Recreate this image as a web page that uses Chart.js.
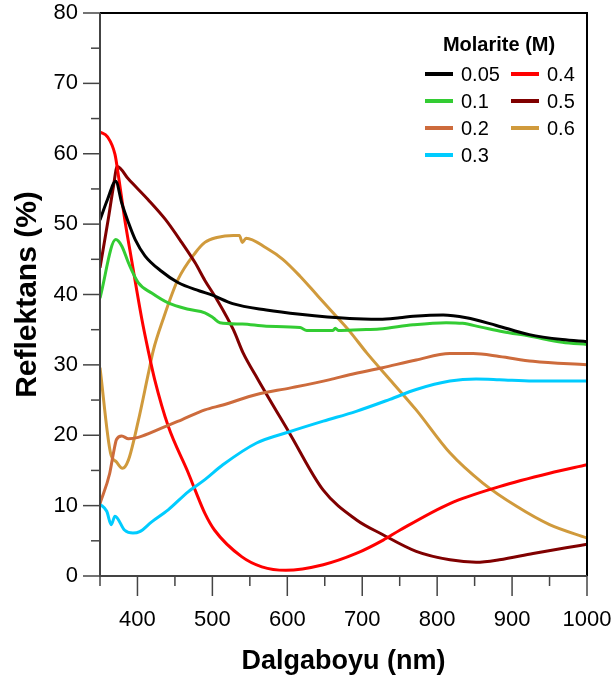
<!DOCTYPE html>
<html>
<head>
<meta charset="utf-8">
<script src="https://cdn.jsdelivr.net/npm/chart.js@4/dist/chart.umd.min.js"></script>
<style>
  html, body { margin: 0; padding: 0; background: #fff; }
  canvas { display: block; }
</style>
</head>
<body>
<canvas id="c" width="613" height="684"></canvas>
<script>
// ---- Data ----
const molarities = ['0.05', '0.1', '0.2', '0.3', '0.4', '0.5', '0.6'];
const colors = ['#000000', '#33cc33', '#cd6b3c', '#00ccff', '#ff0000', '#800000', '#d09a3c'];

const nm005 = [350, 360, 371, 379, 388, 397, 410, 432, 454, 483, 500, 527, 572, 617, 683, 723, 750, 768, 808, 839, 879, 923, 967, 1000];
const r005  = [50.6, 53.5, 56.1, 53.0, 50.2, 47.8, 45.5, 43.3, 41.7, 40.5, 39.9, 38.7, 37.8, 37.2, 36.6, 36.5, 36.7, 36.9, 37.1, 36.7, 35.6, 34.3, 33.6, 33.3];

const nm01 = [350, 371, 379, 388, 401, 419, 441, 468, 490, 501, 510, 540, 572, 617, 626, 661, 664, 668, 697, 723, 768, 812, 834, 857, 888, 923, 967, 1000];
const r01  = [39.5, 47.8, 46.9, 44.5, 41.7, 40.2, 38.8, 37.9, 37.4, 36.7, 36.0, 35.8, 35.5, 35.3, 34.9, 34.9, 35.2, 34.9, 35.0, 35.1, 35.7, 36.0, 35.9, 35.4, 34.7, 34.1, 33.2, 32.9];

const nm02 = [350, 363, 368, 372, 379, 388, 401, 432, 459, 490, 514, 559, 603, 657, 683, 727, 772, 817, 848, 883, 928, 1000];
const r02  = [10.3, 14.6, 17.5, 19.4, 19.9, 19.5, 19.7, 21.0, 22.2, 23.6, 24.3, 25.8, 26.7, 27.9, 28.6, 29.6, 30.7, 31.6, 31.6, 31.2, 30.5, 30.0];

const nm03 = [350, 359, 365, 370, 383, 394, 403, 419, 441, 468, 490, 514, 559, 603, 648, 692, 737, 772, 817, 852, 883, 928, 1000];
const r03  = [10.2, 9.2, 7.3, 8.5, 6.5, 6.1, 6.3, 7.7, 9.4, 12.0, 13.7, 15.8, 18.9, 20.5, 22.0, 23.4, 25.1, 26.5, 27.7, 28.0, 27.9, 27.7, 27.7];

const nm04 = [350, 360, 370, 374, 383, 392, 406, 414, 423, 441, 468, 477, 490, 503, 539, 566, 598, 648, 692, 728, 750, 817, 883, 950, 1000];
const r04  = [63.1, 62.4, 59.9, 57.3, 50.7, 45.0, 36.4, 32.2, 27.9, 21.3, 14.6, 12.2, 8.9, 6.5, 2.75, 1.3, 0.8, 1.6, 3.2, 5.1, 6.5, 10.3, 12.7, 14.6, 15.8];

const nm05 = [350, 361, 368, 373, 388, 414, 437, 459, 477, 490, 506, 528, 541, 561, 603, 648, 692, 727, 772, 817, 852, 883, 928, 972, 1000];
const r05  = [43.8, 50.7, 55.4, 58.2, 56.4, 53.5, 50.7, 47.4, 44.5, 42.0, 39.3, 35.0, 31.7, 27.9, 20.3, 12.2, 8.0, 5.9, 3.5, 2.3, 1.95, 2.3, 3.2, 4.0, 4.5];

const nm06 = [350, 364, 372, 380, 388, 401, 414, 421, 434, 454, 477, 490, 506, 528, 536, 540, 545, 572, 594, 617, 639, 661, 683, 706, 737, 772, 817, 861, 906, 950, 1000];
const r06  = [29.6, 17.5, 16.2, 15.3, 16.5, 22.0, 28.5, 32.0, 36.4, 42.1, 45.9, 47.4, 48.1, 48.4, 48.4, 47.4, 48.0, 46.6, 45.0, 42.6, 40.0, 37.4, 34.8, 31.7, 27.9, 23.6, 17.5, 13.2, 9.9, 7.3, 5.4];

const xTickValues = [400, 500, 600, 700, 800, 900, 1000];
const yTickValues = [0, 10, 20, 30, 40, 50, 60, 70, 80];
const xTitle = 'Dalgaboyu (nm)';
const yTitle = 'Reflektans (%)';
const legendTitle = 'Molarite (M)';

const seriesX = [nm005, nm01, nm02, nm03, nm04, nm05, nm06];
const seriesY = [r005, r01, r02, r03, r04, r05, r06];

const FONT = "'Liberation Sans', Arial, sans-serif";

const datasets = molarities.map((m, i) => ({
  label: m,
  data: seriesX[i].map((x, j) => ({ x: x, y: seriesY[i][j] })),
  borderColor: colors[i],
  backgroundColor: colors[i],
  borderWidth: 3,
  pointRadius: 0,
  cubicInterpolationMode: 'monotone',
  fill: false
}));

// Frame, tick marks and legend drawn from the chart's own scales/datasets
const framePlugin = {
  id: 'frame',
  afterDatasetsDraw(chart) {
    const ctx = chart.ctx;
    const a = chart.chartArea;
    const xs = chart.scales.x, ys = chart.scales.y;
    ctx.save();
    ctx.lineCap = 'butt';
    ctx.lineWidth = 2;
    ctx.strokeStyle = '#000';
    ctx.beginPath();
    ctx.moveTo(a.left, a.top); ctx.lineTo(a.right, a.top); ctx.lineTo(a.right, a.bottom);
    ctx.stroke();
    ctx.strokeStyle = '#444';
    ctx.beginPath();
    ctx.moveTo(a.left, a.top); ctx.lineTo(a.left, a.bottom); ctx.lineTo(a.right, a.bottom);
    ctx.stroke();
    ctx.lineWidth = 1.5;
    ctx.strokeStyle = '#444';
    for (let v = xs.min; v <= xs.max + 0.001; v += 50) {
      const px = xs.getPixelForValue(v);
      const major = xTickValues.includes(v);
      ctx.beginPath();
      ctx.moveTo(px, a.bottom);
      ctx.lineTo(px, a.bottom + (major ? 20 : 10));
      ctx.stroke();
    }
    for (let v = ys.min; v <= ys.max + 0.001; v += 5) {
      const py = ys.getPixelForValue(v);
      const major = yTickValues.includes(v);
      ctx.beginPath();
      ctx.moveTo(a.left, py);
      ctx.lineTo(a.left - (major ? 17 : 9), py);
      ctx.stroke();
    }
    // legend
    ctx.fillStyle = '#000';
    ctx.textBaseline = 'middle';
    ctx.textAlign = 'center';
    ctx.font = 'bold 20px ' + FONT;
    ctx.fillText(legendTitle, 499, 45);
    ctx.font = '20px ' + FONT;
    ctx.textAlign = 'left';
    chart.data.datasets.forEach((ds, i) => {
      const col = i < 4 ? 0 : 1;
      const row = i < 4 ? i : i - 4;
      const lx = col === 0 ? 425 : 511;
      const ly = 74 + row * 27;
      ctx.strokeStyle = ds.borderColor;
      ctx.lineWidth = 4;
      ctx.beginPath();
      ctx.moveTo(lx, ly); ctx.lineTo(lx + 28, ly);
      ctx.stroke();
      ctx.fillStyle = '#000';
      ctx.fillText(ds.label, lx + 36, ly + 1);
    });
    ctx.restore();
  }
};

new Chart(document.getElementById('c'), {
  type: 'line',
  data: { datasets: datasets },
  options: {
    responsive: false,
    devicePixelRatio: 1,
    animation: false,
    layout: { padding: { left: 0, right: 26, top: 13, bottom: 0 } },
    plugins: { legend: { display: false }, tooltip: { enabled: false } },
    scales: {
      x: {
        type: 'linear',
        min: 350, max: 1000,
        afterBuildTicks: s => { s.ticks = xTickValues.map(v => ({ value: v })); },
        afterFit: s => { s.height = 108; s.paddingLeft = 0; s.paddingRight = 0; },
        grid: { display: false, drawTicks: false, tickLength: 0 },
        border: { display: false },
        ticks: { color: '#000', font: { family: FONT, size: 22 }, padding: 31, maxRotation: 0, autoSkip: false, callback: v => String(v) },
        title: { display: true, text: xTitle, color: '#000', font: { family: FONT, size: 27, weight: 'bold' }, padding: { top: 0, bottom: 6 } }
      },
      y: {
        type: 'linear',
        min: 0, max: 80,
        afterBuildTicks: s => { s.ticks = yTickValues.map(v => ({ value: v })); },
        afterFit: s => { s.width = 100; s.paddingTop = 0; s.paddingBottom = 0; },
        grid: { display: false, drawTicks: false, tickLength: 0 },
        border: { display: false },
        ticks: { color: '#000', font: { family: FONT, size: 22 }, padding: 22, callback: v => String(v) },
        title: { display: true, text: yTitle, color: '#000', font: { family: FONT, size: 30, weight: 'bold' }, padding: { top: 10, bottom: 0 } }
      }
    }
  },
  plugins: [framePlugin]
});
</script>
</body>
</html>
